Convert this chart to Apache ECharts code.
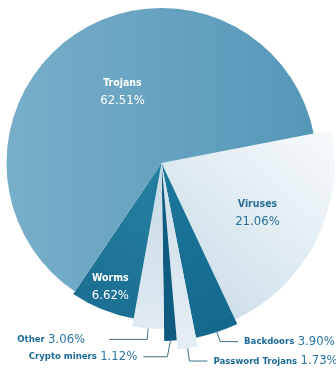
<!DOCTYPE html>
<html><head><meta charset="utf-8">
<script src="https://cdn.jsdelivr.net/npm/echarts@6/dist/echarts.min.js"></script>
<style>html,body{margin:0;padding:0;background:#fff}#c{width:336px;height:374px}</style>
</head><body><div id="c"></div>
<script>
// ---- data ----
const categories = ['Viruses', 'Backdoors', 'Password Trojans', 'Crypto miners', 'Other', 'Worms', 'Trojans'];
const shares = [21.06, 3.90, 1.73, 1.12, 3.06, 6.62, 62.51];

// ---- styles ----
const CX = 161.5, CY = 163;
const FONT = "'DejaVu Sans Condensed', 'Liberation Sans Narrow', 'Liberation Sans', sans-serif";
const G = (x0, y0, x1, y1, a, b) => new echarts.graphic.LinearGradient(x0, y0, x1, y1, [{offset: 0, color: a}, {offset: 1, color: b}]);
const sliceStyle = {
  'Viruses':          {r: 173, color: G(0, 1, 1, 0, '#c6dae6', '#f7fafc'), kind: 'inside', text: '#2a6f96', push: 1.24, dx: -3, dy: 0},
  'Backdoors':        {r: 178, color: G(0, 0, 1, 1, '#1d789c', '#13678c'), kind: 'outside', len: 10, len2: 18, dist: 6},
  'Password Trojans': {r: 187, color: G(0, 0, 0, 1, '#cddeea', '#e4edf3'), kind: 'outside', len: 13, len2: 18, dist: 6},
  'Crypto miners':    {r: 178, color: '#0f5c80', kind: 'flip', len: 16, len2: 24, dist: 6},
  'Other':            {r: 166, color: G(0, 0, 0, 1, '#c6d9e6', '#e0eaf1'), kind: 'outside', len: 11, len2: 38, dist: 24},
  'Worms':            {r: 158, color: G(1, 0, 0, 1, '#2580a2', '#1a6d90'), kind: 'inside', text: '#ffffff', push: 1.66, dx: 0, dy: -2},
  'Trojans':          {r: 155, color: G(0, 0, 1, 0, '#78aeca', '#5597b8'), kind: 'inside', text: '#ffffff', push: 1.08, dx: 9, dy: 2}
};
const NAME_C = '#1c6a97', VAL_C = '#2a76a1', LINE_C = '#3f6f8c';

const chart = echarts.init(document.getElementById('c'), null, {renderer: 'canvas'});

const series = categories.map((cat, i) => {
  const st = sliceStyle[cat];
  const inside = st.kind === 'inside';
  const txt = inside ? st.text : NAME_C;
  return {
    type: 'pie',
    center: [CX, CY],
    radius: [0, st.r],
    startAngle: 11,
    clockwise: true,
    avoidLabelOverlap: false,
    silent: true,
    animation: false,
    data: categories.map((c, j) => ({
      name: c,
      value: shares[j],
      itemStyle: j === i ? {color: st.color} : {color: 'rgba(0,0,0,0)'},
      label: {show: j === i},
      labelLine: {show: j === i && !inside}
    })),
    label: {
      position: inside ? 'inside' : 'outside',
      distanceToLabelLine: st.dist || 5,
      formatter: p => inside
        ? `{n|${p.name}}\n{v|${p.value.toFixed(2)}%}`
        : `{n|${p.name}} {v|${p.value.toFixed(2)}%}`,
      rich: {
        n: {fontFamily: FONT, fontWeight: 'bold', fontSize: inside ? 10.5 : 9.5, color: txt, lineHeight: inside ? 16 : 18},
        v: {fontFamily: FONT, fontSize: inside ? 13 : 13, color: inside ? txt : VAL_C, lineHeight: 18}
      }
    },
    labelLine: {
      length: st.len || 10,
      length2: st.len2 || 10,
      smooth: false,
      lineStyle: {color: LINE_C, width: 1}
    },
    labelLayout: function (params) {
      if (params.dataIndex !== i) return {};
      if (st.kind === 'inside') {
        const r = params.labelRect;
        const lx = r.x + r.width / 2, ly = r.y + r.height / 2;
        return {x: CX + (lx - CX) * st.push + st.dx, y: CY + (ly - CY) * st.push + st.dy, align: 'center', verticalAlign: 'middle'};
      }
      if (st.kind === 'flip' && params.labelLinePoints) {
        const p = params.labelLinePoints;
        const p1 = [p[1][0] - 4, p[1][1]];
        const p2 = [p1[0] - st.len2, p1[1]];
        return {
          x: p2[0] - st.dist, y: p2[1], align: 'right', verticalAlign: 'middle',
          labelLinePoints: [p[0], p1, p2]
        };
      }
      return {};
    }
  };
});

chart.setOption({backgroundColor: '#ffffff', animation: false, series});
</script>
</body></html>
